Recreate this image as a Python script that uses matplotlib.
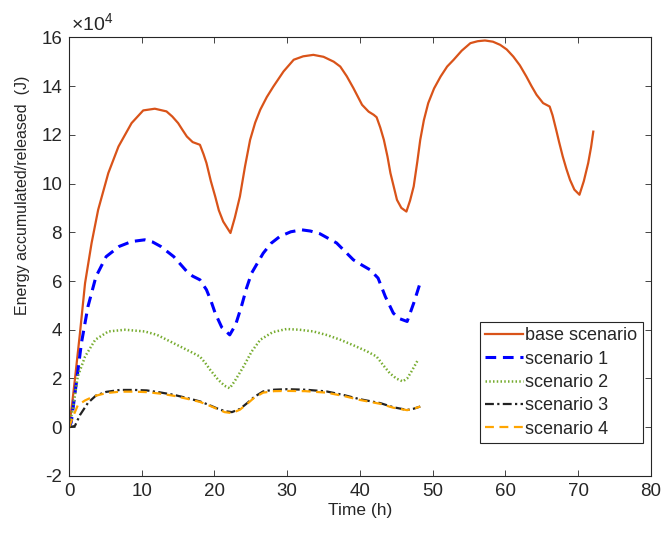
import matplotlib
matplotlib.use("Agg")
import matplotlib.pyplot as plt

# values, energy in units of 1e4 J
base_t = [0, 0.4, 0.8, 1.5, 2.2, 3.1, 4.0, 5.4, 6.8, 8.6, 10.2, 11.8, 13.4, 14.2, 15.0, 15.6,
          16.2, 17.0, 18.0, 18.5, 18.9, 19.5, 20.1, 20.6, 21.2, 22.2, 22.8, 23.5, 24.2, 24.9,
          25.6, 26.3, 27.2, 28.1, 29.5, 30.9, 32.2, 33.6, 35.0, 36.4, 37.3, 38.2, 39.1, 40.3,
          41.2, 41.9, 42.3, 42.8, 43.3, 43.8, 44.2, 45.1, 45.7, 46.4, 46.9, 47.4, 47.9, 48.3,
          48.8, 49.4, 50.2, 51.1, 52.0, 52.9, 54.0, 55.2, 56.2, 57.2, 58.3, 59.3, 60.2, 61.1,
          62.0, 62.9, 63.6, 64.3, 65.2, 66.1, 66.5, 67.0, 67.4, 67.9, 68.4, 68.9, 69.5, 70.2,
          70.8, 71.4, 71.8, 72.1]
base_e = [0, 0.9, 1.95, 3.86, 5.91, 7.56, 8.92, 10.43, 11.52, 12.48, 13.0, 13.07, 12.96, 12.75,
          12.48, 12.2, 11.93, 11.7, 11.59, 11.2, 10.84, 10.1, 9.47, 8.9, 8.44, 7.97, 8.6, 9.47,
          10.7, 11.79, 12.5, 13.03, 13.55, 13.98, 14.6, 15.08, 15.22, 15.28, 15.2, 15.0, 14.8,
          14.4, 13.92, 13.23, 12.95, 12.82, 12.72, 12.3, 11.79, 11.1, 10.43, 9.33, 9.0, 8.85,
          9.3, 9.88, 10.9, 11.79, 12.6, 13.3, 13.9, 14.39, 14.8, 15.08, 15.45, 15.76, 15.84,
          15.87, 15.82, 15.69, 15.5, 15.21, 14.85, 14.39, 14.0, 13.64, 13.3, 13.16, 12.8, 12.2,
          11.7, 11.11, 10.6, 10.15, 9.75, 9.54, 10.1, 10.84, 11.5, 12.13]

s1_t = [0, 0.3, 1.0, 1.7, 2.6, 3.7, 5.1, 6.9, 8.6, 10.4, 11.5, 12.6, 14.4, 16.2, 17.0, 18.0,
        18.9, 19.5, 20.1, 21.0, 22.1, 22.9, 23.7, 24.4, 25.1, 26.7, 27.8, 29.0, 30.5, 32.0,
        33.2, 34.5, 36.8, 39.1, 40.3, 41.4, 42.5, 43.5, 44.6, 45.5, 46.5, 47.4, 48.2]
s1_e = [0, 0.2, 1.81, 3.45, 4.95, 6.18, 7.0, 7.42, 7.62, 7.69, 7.6, 7.42, 7.0, 6.39, 6.2, 6.05,
        5.64, 5.2, 4.68, 4.1, 3.79, 4.2, 4.95, 5.7, 6.32, 7.14, 7.55, 7.83, 8.02, 8.1,
        8.05, 7.94, 7.56, 6.87, 6.65, 6.46, 6.12, 5.36, 4.68, 4.45, 4.34, 5.09, 5.84]

s2_t = [0, 0.5, 1.2, 2.2, 3.6, 5.4, 7.7, 10.4, 12.1, 13.7, 15.3, 16.7, 18.0, 18.7, 19.4, 20.5,
        21.4, 22.1, 22.8, 24.0, 25.1, 26.3, 28.0, 29.9, 31.7, 33.6, 35.5, 37.3, 39.2, 41.0,
        42.3, 43.2, 44.1, 45.0, 45.9, 46.5, 47.1, 48.0]
s2_e = [0, 0.71, 2.08, 2.9, 3.59, 3.93, 4.0, 3.93, 3.79, 3.55, 3.31, 3.1, 2.9, 2.65, 2.36, 1.95,
        1.7, 1.6, 1.9, 2.49, 3.1, 3.59, 3.9, 4.03, 4.0, 3.93, 3.78, 3.59, 3.35, 3.11,
        2.9, 2.55, 2.22, 2.0, 1.88, 2.0, 2.29, 2.77]

s3_t = [0, 0.8, 1.5, 2.6, 3.7, 5.1, 7.0, 9.0, 10.7, 12.5, 14.4, 16.2, 18.0, 19.2, 20.3, 21.4,
        22.4, 23.5, 24.5, 25.5, 26.7, 28.2, 29.9, 32.5, 35.4, 37.8, 40.0, 42.8, 44.6, 46.5,
        47.4, 48.3]
s3_e = [0, 0.05, 0.5, 1.0, 1.3, 1.45, 1.53, 1.53, 1.51, 1.43, 1.33, 1.2, 1.06, 0.92, 0.78, 0.66,
        0.62, 0.75, 0.99, 1.25, 1.47, 1.54, 1.56, 1.54, 1.47, 1.32, 1.15, 0.99, 0.82, 0.71,
        0.76, 0.85]

s4_t = [0, 0.5, 1.2, 2.2, 3.5, 5.1, 7.0, 9.0, 10.7, 12.5, 14.4, 16.2, 18.0, 19.2, 20.3, 21.4,
        22.4, 23.5, 24.5, 25.5, 26.7, 28.2, 29.9, 32.5, 35.4, 37.8, 40.0, 42.8, 44.6, 46.5,
        47.4, 48.3]
s4_e = [0, 0.4, 0.9, 1.1, 1.28, 1.4, 1.46, 1.46, 1.44, 1.38, 1.29, 1.17, 1.04, 0.9, 0.76, 0.62,
        0.58, 0.72, 0.96, 1.22, 1.42, 1.48, 1.49, 1.48, 1.42, 1.28, 1.12, 0.96, 0.8, 0.7,
        0.76, 0.85]

plt.rcParams['font.family'] = ['Liberation Sans', 'DejaVu Sans']
plt.rcParams['mathtext.fontset'] = 'custom'
plt.rcParams['mathtext.rm'] = 'Liberation Sans'
plt.rcParams['mathtext.it'] = 'Liberation Sans'
plt.rcParams['axes.unicode_minus'] = False

txt = '#262626'

fig = plt.figure(figsize=(6.64, 5.33), dpi=100)
ax = fig.add_axes([0.104, 0.107, 0.876, 0.823])

ax.plot(base_t, base_e, color='#D95319', lw=1.6, label='base scenario')
ax.plot(s1_t, s1_e, color='#0000FF', lw=2.2, dashes=(3.5, 2.2), label='scenario 1')
ax.plot(s2_t, s2_e, color='#77AC30', lw=1.8, linestyle=(0, (0.6, 0.9)), label='scenario 2')
ax.plot(s3_t, s3_e, color='#222222', lw=1.6, linestyle=(0, (4, 1.5, 1, 1.5)), label='scenario 3')
ax.plot(s4_t, s4_e, color='#FFA500', lw=1.6, dashes=(4, 2.5), label='scenario 4')

ax.set_xlim(0, 80)
ax.set_ylim(-2, 16)
ax.set_xticks(range(0, 81, 10))
ax.set_yticks(range(-2, 17, 2))
ax.tick_params(direction='in', top=True, right=True, labelsize=13.5, colors=txt,
               length=4, width=0.6, pad=5)
for s in ax.spines.values():
    s.set_color(txt)
    s.set_linewidth(0.8)

ax.set_xlabel('Time (h)', fontsize=12.5, color=txt, labelpad=2)
ax.set_ylabel('Energy accumulated/released  (J)', fontsize=11.5, color=txt)
ax.yaxis.set_label_coords(-0.068, 0.64)
ax.text(0.004, 1.008, r'$\times10^{4}$', transform=ax.transAxes, fontsize=14,
        color=txt, ha='left', va='bottom')

leg = ax.legend(loc='lower right', bbox_to_anchor=(0.986, 0.075), borderaxespad=0,
                fontsize=13, fancybox=False, framealpha=1, edgecolor=txt, borderpad=0.3,
                handlelength=2.1, handletextpad=0.1, labelspacing=0.35)
leg.get_frame().set_linewidth(0.8)
for t in leg.get_texts():
    t.set_color(txt)

fig.savefig('out.png', dpi=100)
